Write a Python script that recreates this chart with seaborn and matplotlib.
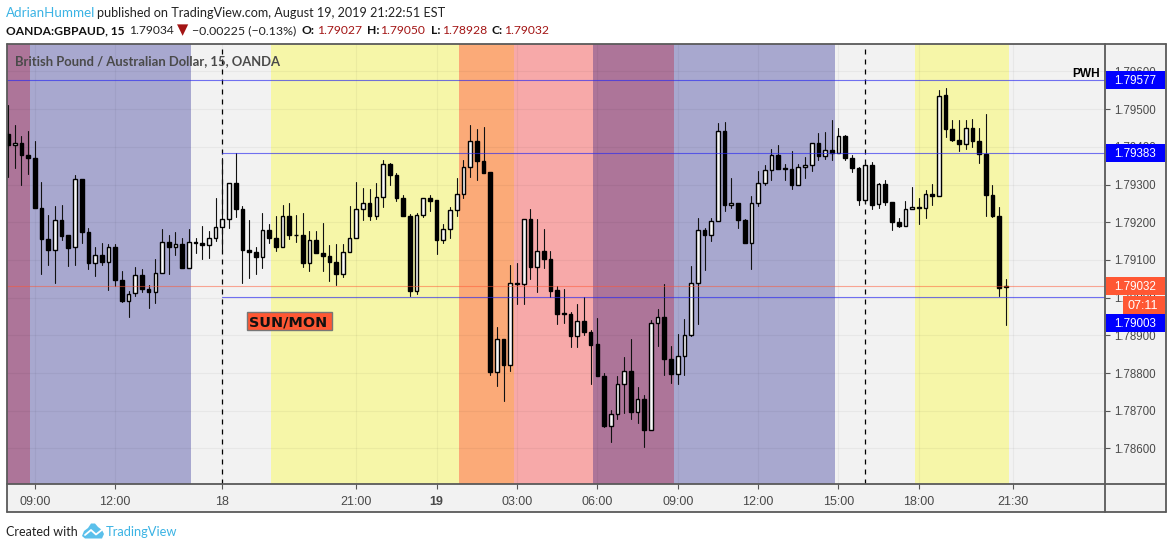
import matplotlib
matplotlib.use("Agg")
import matplotlib.pyplot as plt
from matplotlib.patches import Polygon, Rectangle
from matplotlib.ticker import FixedLocator, FuncFormatter
import numpy as np
import pandas as pd
import seaborn as sns

# prices as 5 digit pipettes, 79435 -> 1.79435
highs = [79510,79457,79428,79441,79415,79307,79218,79242,79245,79165,
         79324,79315,79186,79135,79144,79141,79141,79070,79017,79080,
         79077,79033,79102,79181,79166,79175,79157,79181,79159,79189,
         79176,79263,79371,79305,79384,79243,79205,79135,79225,79196,
         79216,79247,79250,79218,79225,79178,79176,79199,79139,79141,
         79143,79244,79307,79290,79289,79303,79365,79358,79331,79273,
         79223,79225,79265,79272,79258,79194,79241,79316,79364,79459,
         79446,79453,79333,78921,78890,79086,79091,79209,79234,79209,
         79181,79125,79032,79022,78962,78984,79003,78913,78945,78799,
         78702,78793,78843,78891,78762,78743,78941,78969,79035,78871,
         78904,78944,79085,79210,79185,79211,79462,79467,79318,79252,
         79209,79270,79337,79351,79395,79406,79355,79389,79355,79372,
         79411,79437,79438,79470,79450,79432,79379,79347,79360,79360,
         79305,79313,79254,79210,79257,79294,79263,79286,79302,79552,
         79556,79470,79470,79470,79474,79449,79486,79300,79241,79050]
lows = [79320,79345,79300,79328,79238,79062,79087,79039,79153,79084,
        79087,79144,79075,79057,79087,79020,79031,78989,78948,79005,
        79015,78973,78986,79066,79063,79112,79079,79079,79119,79102,
        79105,79150,79130,79184,79214,79039,79052,79063,79079,79146,
        79125,79135,79155,79148,79080,79071,79118,79071,79044,79034,
        79055,79122,79159,79205,79205,79208,79240,79299,79256,79216,
        79004,79009,79214,79231,79115,79145,79157,79216,79263,79319,
        79312,79331,78795,78766,78726,78806,78982,78982,79050,79015,
        79078,79002,78929,78934,78868,78868,78902,78770,78792,78658,
        78617,78677,78695,78677,78667,78603,78650,78873,78796,78773,
        78770,78796,78898,78929,79073,79151,79203,79229,79237,79186,
        79145,79075,79242,79298,79312,79340,79311,79287,79299,79316,
        79337,79365,79369,79365,79384,79365,79333,79247,79252,79235,
        79238,79246,79179,79187,79190,79235,79194,79211,79247,79269,
        79426,79415,79389,79393,79399,79356,79216,79215,79004,78928]
opens = [79435,79405,79411,79379,79371,79239,79156,79127,79207,79165,
         79133,79315,79175,79093,79114,79095,79135,79048,78992,79011,
         79061,79024,79016,79066,79148,79135,79143,79079,79148,79146,
         79140,79159,79188,79209,79305,79236,79127,79122,79108,79180,
         79159,79135,79217,79167,79167,79093,79154,79119,79111,79095,
         79063,79122,79159,79236,79252,79217,79268,79355,79326,79265,
         79217,79018,79220,79265,79258,79154,79183,79233,79276,79347,
         79416,79363,79332,78804,78890,78822,79040,79037,79209,79081,
         79125,79103,79019,78958,78957,78898,78939,78910,78876,78793,
         78660,78692,78771,78806,78697,78732,78650,78932,78949,78838,
         78797,78846,78901,79039,79180,79166,79203,79442,79245,79252,
         79207,79145,79251,79304,79339,79379,79343,79342,79299,79347,
         79352,79411,79375,79392,79384,79429,79371,79344,79259,79352,
         79249,79302,79254,79201,79190,79235,79241,79238,79276,79269,
         79537,79448,79419,79408,79450,79416,79382,79273,79217,79027]
closes = [79405,79411,79378,79370,79238,79156,79126,79207,79163,79132,
          79315,79174,79092,79114,79095,79135,79046,78990,79010,79060,
          79024,79015,79066,79148,79134,79142,79079,79148,79145,79140,
          79158,79188,79209,79305,79236,79126,79121,79108,79180,79158,
          79134,79217,79166,79165,79092,79154,79118,79110,79095,79063,
          79121,79159,79236,79252,79216,79267,79355,79325,79264,79216,
          79018,79219,79265,79256,79153,79183,79233,79276,79347,79415,
          79362,79331,78803,78889,78822,79040,79036,79209,79081,79125,
          79103,79017,78956,78956,78898,78939,78909,78874,78792,78660,
          78692,78772,78806,78697,78732,78649,78933,78949,78837,78797,
          78846,78901,79039,79179,79166,79203,79442,79245,79252,79206,
          79145,79252,79304,79339,79379,79341,79340,79299,79347,79352,
          79411,79375,79392,79383,79429,79370,79344,79259,79352,79247,
          79302,79254,79201,79189,79236,79241,79238,79276,79269,79536,
          79448,79418,79407,79450,79415,79381,79272,79216,79026,79032]

# session background bands, edges in bars
session_edges = [-0.15, 3.3, 27.3, 39.3, 67.4, 75.6, 87.4, 99.5, 123.5, 135.5, 149.5]
session_colors = ["#AD7599", "#A8A8CF", "#F2F2F2", "#F6F6A8", "#FBAA78",
                  "#F7A9A9", "#AD7599", "#A8A8CF", "#F2F2F2", "#F6F6A8"]

tick_bars = [4, 16, 32, 52, 64, 76, 88, 100, 112, 124, 136, 150]
tick_labels = ["09:00", "12:00", "18", "21:00", "19", "03:00", "06:00",
               "09:00", "12:00", "15:00", "18:00", "21:30"]
price_ticks = [1.786, 1.787, 1.788, 1.789, 1.790, 1.791, 1.792, 1.793, 1.794, 1.795, 1.796]
day_lines = [32, 128]

# horizontal levels: price and first bar
level_prices = [1.79577, 1.79383, 1.79003]
level_starts = [-0.15, 32, 32]
last_price = 1.79032

W, H = 1172, 549
LEFT, RIGHT, TOP, BOTTOM = 7, 1105, 44, 484
XMIN, XMAX = -0.15, 163.8
YMIN, YMAX = 1.785057, 1.796727

sns.set_theme(style="white")
plt.rcParams["font.family"] = ["Liberation Sans", "DejaVu Sans"]

fig = plt.figure(figsize=(W / 100, H / 100), dpi=100, facecolor="white")


def fx(x):
    return x / W


def fy(y):
    return 1 - y / H


def put(x, y, s, **kw):
    kw.setdefault("family", ["Lato", "DejaVu Sans"])
    kw.setdefault("va", "baseline")
    return fig.text(fx(x), fy(y), s, **kw)


def box(x0, y0, x1, y1, **kw):
    fig.add_artist(Rectangle((fx(x0), fy(y1)), fx(x1 - x0), fy(y0) - fy(y1),
                             transform=fig.transFigure, **kw))


# outer panel behind the axes
box(6.5, 44, 1165.5, 512, facecolor="#F2F2F2", edgecolor="none", zorder=-5)

ax = fig.add_axes([fx(LEFT), fy(BOTTOM), fx(RIGHT - LEFT), fy(TOP) - fy(BOTTOM)])
ax.set_facecolor("#F2F2F2")

for i, c in enumerate(session_colors):
    ax.axvspan(session_edges[i], session_edges[i + 1], color=c, lw=0, zorder=0)

for b in tick_bars:
    ax.axvline(b, color="black", alpha=0.045, lw=0.8, zorder=1)
for p in price_ticks:
    ax.axhline(p, color="black", alpha=0.045, lw=0.8, zorder=1)

for b in day_lines:
    ax.axvline(b, color="black", lw=0.9, ls=(0, (4, 4)), zorder=2)

df = pd.DataFrame({"open": opens, "high": highs, "low": lows, "close": closes}) / 1e5 + 1
df["bar"] = np.arange(len(df))

wicks = df.melt(id_vars="bar", value_vars=["high", "low"], value_name="price")
sns.lineplot(data=wicks, x="bar", y="price", units="bar", estimator=None, sort=False,
             color="#111111", lw=0.8, legend=False, ax=ax, zorder=3)

up = df["close"] >= df["open"]
ax.bar(df["bar"], (df["close"] - df["open"]).abs(), bottom=df[["open", "close"]].min(axis=1),
       width=0.55, color=np.where(up, "#F8F8F8", "black"), edgecolor="black", linewidth=1.0, zorder=4)

for price, start in zip(level_prices, level_starts):
    sns.lineplot(x=[start, XMAX], y=[price, price], color="#2A2AF0", alpha=0.65, lw=0.8,
                 legend=False, ax=ax, zorder=5)
ax.axhline(last_price, color="#FF5733", alpha=0.5, lw=0.8, zorder=5)

ax.set_xlim(XMIN, XMAX)
ax.set_ylim(YMIN, YMAX)
ax.set_xlabel("")
ax.set_ylabel("")
ax.yaxis.tick_right()
ax.yaxis.set_major_locator(FixedLocator(price_ticks))
ax.yaxis.set_major_formatter(FuncFormatter(lambda v, _: f"{v:.5f}"))
ax.set_xticks(tick_bars)
ax.set_xticklabels(tick_labels)
ax.tick_params(axis="both", which="major", length=3.5, width=0.8, color="#555555",
               labelcolor="#4A4A4A", labelsize=8.3, bottom=True, right=True, left=False, pad=3)
ax.tick_params(axis="x", pad=5, labelsize=9)
for lab in ax.get_xticklabels():
    if lab.get_text() == "19":
        lab.set_fontweight("bold")
for s in ["top", "left", "bottom", "right"]:
    ax.spines[s].set_visible(False)
ax.set_zorder(1)

# frame of the whole widget
edge = {"color": "#5A5A5A", "lw": 1.3, "zorder": 6}
for xs, ys in [((6.5, 1165.5), (44, 44)), ((6.5, 1165.5), (484, 484)), ((6.5, 1165.5), (512, 512)),
               ((6.5, 6.5), (44, 512)), ((1105, 1105), (44, 512)), ((1165.5, 1165.5), (44, 512))]:
    fig.add_artist(plt.Line2D([fx(xs[0]), fx(xs[1])], [fy(ys[0]), fy(ys[1])],
                              transform=fig.transFigure, **edge))

# price tags on the right scale
tag = {"family": ["Liberation Sans"], "color": "white", "fontsize": 8.4, "zorder": 9}
for y0, txt, col in [(71, "1.79577", "#0000FF"), (144, "1.79383", "#0000FF"),
                     (277, "1.79032", "#FF5733"), (314, "1.79003", "#0000FF")]:
    box(1105.5, y0, 1165, y0 + 18, facecolor=col, edgecolor="none", zorder=8)
    put(1114.5, y0 + 13, txt, **tag)
box(1123, 295.5, 1165, 314, facecolor="#FF5733", edgecolor="none", zorder=8)
put(1127, 309, "07:11", family=["Liberation Sans"], color="white", fontsize=9, zorder=9)
put(1072, 77, "PWH", family=["Liberation Sans"], fontsize=8.6, fontweight="bold", color="black", zorder=9)

# SUN/MON label
box(247, 311.5, 331.5, 330, facecolor="#FF5733", edgecolor="#777777", lw=1.0, zorder=8)
put(249.5, 326, "SUN/MON", family=["DejaVu Sans"], fontsize=10.4, fontweight="bold", color="#111111", zorder=9)

put(15, 65, "British Pound / Australian Dollar, 15, OANDA", fontsize=9.35, fontweight="bold",
    color="#4A4A4A", zorder=9)

# header
put(6.4, 17, "AdrianHummel", fontsize=9.6, color="#3BB3E4")
put(97, 17, "published on TradingView.com, August 19, 2019 21:22:51 EST", fontsize=9.05, color="#222222")
put(6.4, 34, "OANDA:GBPAUD, 15", fontsize=8.65, fontweight="bold", color="#111111")
put(129, 34, "1.79034", fontsize=8.7, color="#222222")
put(176.5, 34, "\u25BC", family=["DejaVu Sans"], fontsize=10.5, color="#A31515")
put(192, 34, "\u22120.00225 (\u22120.13%)", fontsize=8.9, color="#222222")
for x0, lab, x1, val in [(302, "O:", 316.8, "1.79027"), (366.8, "H:", 380, "1.79050"),
                         (430.7, "L:", 441.8, "1.78928"), (491, "C:", 503.6, "1.79032")]:
    put(x0, 34, lab, fontsize=8.7, fontweight="bold", color="#111111")
    put(x1, 34, val, fontsize=8.7, color="#A31515")

# footer
put(6.5, 536, "Created with", fontsize=9, color="#222222")
put(106, 536, "TradingView", fontsize=9.3, color="#3BB3E4")
cloud = [(82, 536), (84, 531), (88, 528), (91, 523.5), (95, 523.5), (98, 527), (102, 530), (104, 534),
         (102, 538.5), (85, 538.5)]
fig.add_artist(Polygon([(fx(a), fy(b)) for a, b in cloud], closed=True, transform=fig.transFigure,
                       facecolor="#5BC0EB", edgecolor="none"))
fig.add_artist(plt.Line2D([fx(a) for a in (85, 91, 96, 103)], [fy(b) for b in (535, 530, 534.5, 529)],
                          transform=fig.transFigure, color="white", lw=1.3))

fig.savefig("out.png", dpi=100)
